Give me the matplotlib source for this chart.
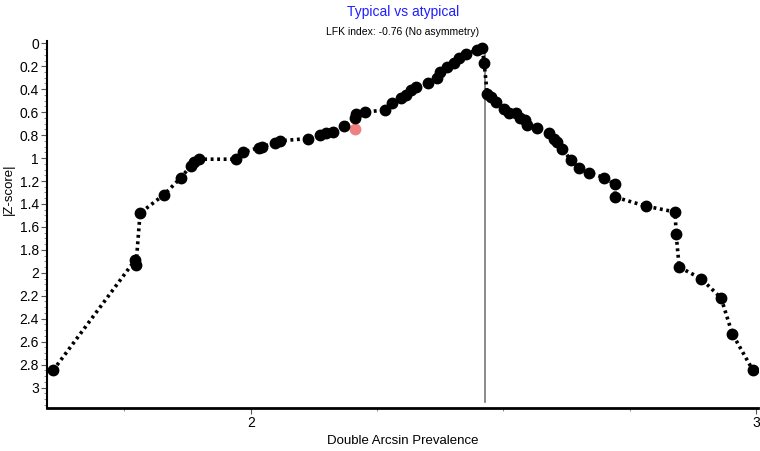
import numpy as np
from matplotlib import pyplot as plt
from matplotlib.ticker import MultipleLocator, FormatStrFormatter

plt.rcParams['font.family'] = ['Liberation Sans', 'DejaVu Sans']

# double arcsin prevalence vs |Z-score| (Doi plot)
prevalence = [1.609, 1.771, 1.773, 1.781, 1.828, 1.862, 1.881, 1.887, 1.897, 1.970,
              1.984, 2.016, 2.022, 2.049, 2.057, 2.113, 2.138, 2.148, 2.162, 2.184,
              2.206, 2.209, 2.227, 2.265, 2.279, 2.298, 2.308, 2.318, 2.328, 2.350,
              2.368, 2.374, 2.389, 2.403, 2.413, 2.427, 2.447, 2.458, 2.462,
              2.468, 2.476, 2.486, 2.502, 2.512, 2.526, 2.532, 2.542, 2.547, 2.567,
              2.591, 2.601, 2.607, 2.617, 2.634, 2.650, 2.670, 2.700, 2.721, 2.721,
              2.783, 2.840, 2.842, 2.848, 2.891, 2.931, 2.953, 2.994]
zscore = [2.85, 1.89, 1.93, 1.48, 1.32, 1.17, 1.07, 1.03, 1.01, 1.01,
          0.95, 0.91, 0.90, 0.87, 0.85, 0.83, 0.80, 0.78, 0.77, 0.72,
          0.65, 0.62, 0.60, 0.58, 0.52, 0.48, 0.45, 0.41, 0.38, 0.35,
          0.30, 0.25, 0.21, 0.17, 0.13, 0.09, 0.06, 0.04, 0.17,
          0.44, 0.47, 0.51, 0.57, 0.61, 0.61, 0.65, 0.67, 0.71, 0.74,
          0.78, 0.83, 0.86, 0.92, 1.02, 1.09, 1.13, 1.17, 1.23, 1.34,
          1.42, 1.47, 1.66, 1.95, 2.05, 2.22, 2.53, 2.85]
highlight_x = [2.206]
highlight_z = [0.745]
median_x = 2.464

fig = plt.figure(figsize=(7.6, 4.51), dpi=100)
ax = fig.add_axes([0.062, 0.095, 0.936, 0.814])

ax.plot([median_x, median_x], [0.05, 3.13], color='#777777', lw=1.2, zorder=1)
ax.plot(highlight_x, highlight_z, 'o', color='#f08080', ms=7.5, zorder=2)
ax.plot(prevalence, zscore, color='black', linestyle=(0, (0.8, 1.0)), lw=2.6,
        marker='o', ms=7.5, zorder=3)

ax.set_xlim(1.597, 3.005)
ax.set_ylim(3.18, -0.02)
ax.xaxis.set_major_locator(MultipleLocator(1))
ax.xaxis.set_minor_locator(MultipleLocator(0.25))
ax.yaxis.set_major_locator(MultipleLocator(0.2))
ax.yaxis.set_minor_locator(MultipleLocator(0.05))
ax.yaxis.set_major_formatter(FormatStrFormatter('%g'))

for s in ['top', 'right']:
    ax.spines[s].set_visible(False)
ax.spines['bottom'].set_linewidth(2)
ax.spines['left'].set_linewidth(1.5)
ax.tick_params(axis='both', labelsize=10, length=4, width=0.8, color='#555555', pad=2)
ax.tick_params(axis='both', which='minor', length=2, width=0.6, color='#777777')

fig.text(0.53, 0.008, 'Double Arcsin Prevalence', fontsize=9.5, ha='center', va='bottom')
fig.text(0.004, 0.58, '|Z-score|', fontsize=9.5, rotation=90, ha='left', va='center')
fig.text(0.53, 0.99, 'Typical vs atypical', color='#1f1fff', fontsize=10,
         ha='center', va='top')
fig.text(0.53, 0.94, 'LFK index: -0.76 (No asymmetry)', fontsize=7.5,
         ha='center', va='top')

fig.savefig('out.png', dpi=100)
